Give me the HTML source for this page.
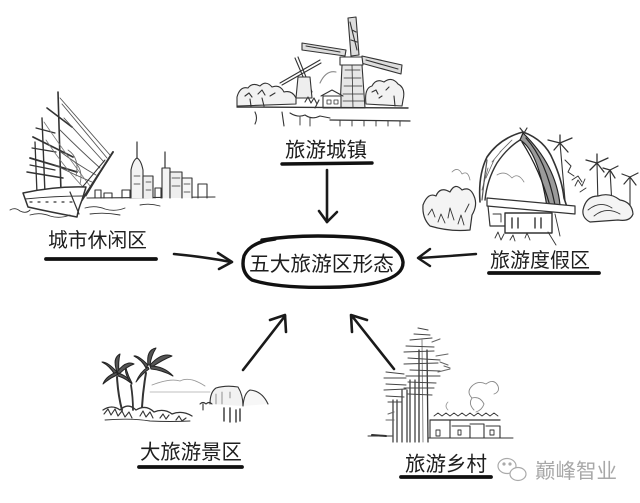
<!DOCTYPE html>
<html><head><meta charset="utf-8"><style>
html,body{margin:0;padding:0;background:#fff;}
body{width:640px;height:503px;overflow:hidden;}
svg{display:block;}
text{font-family:"Liberation Sans","Noto Sans CJK SC",sans-serif;fill:#1e1e1e;}
</style></head><body>
<svg width="640" height="503" viewBox="0 0 640 503" xmlns="http://www.w3.org/2000/svg">
<rect width="640" height="503" fill="#fff"/>

<!-- ===== Windmill (travel town) ===== -->
<g fill="none" stroke="#333" stroke-width="1.1" stroke-linecap="round" stroke-linejoin="round">
  <path d="M348,18 L356,17 L359,55 L351,56 Z" fill="#ddd"/>
  <path d="M350,22 L357,50 M352,30 L356,32 M351,40 L357,42" />
  <path d="M302,43 L346,50 L345,56 L302,50 Z" fill="#ddd"/>
  <path d="M306,46 L340,52" />
  <path d="M362,56 L402,65 L401,74 L361,63 Z" fill="#ddd"/>
  <path d="M366,60 L398,69" />
  <path d="M340,57 L362,57 L363,65 L340,65 Z" fill="#fff"/>
  <path d="M342,65 L362,65 L365,108 L340,108 Z" fill="#e6e6e6"/>
  <path d="M345,70 L360,70 M344,78 L361,78 M344,86 L362,86 M343,94 L363,94 M343,101 L364,101 M352,65 L353,108" stroke-width="0.8"/>
  <path d="M280,83 L320,60 M282,85 L321,63" />
  <path d="M295,58 L310,93 M298,57 L312,92" />
  <path d="M298,77 L310,77 L312,98 L296,98 Z" fill="#eee"/>
  <path d="M237,97 Q240,86 248,88 Q252,82 260,86 Q266,80 272,87 Q280,84 284,92 Q292,90 296,98 L296,104 L237,106 Z" fill="#f2f2f2"/>
  <path d="M245,96 l4,-3 l3,4 M258,94 l4,-4 l3,5 M270,96 l5,-3 M262,98 L264,106 M250,99 L251,106"/>
  <path d="M323,96 L341,96 L341,108 L323,108 Z M321,96 L332,90 L343,96" fill="#fff"/>
  <path d="M327,100 h4 v4 h-4z M334,100 h4 v4 h-4z" stroke-width="0.8"/>
  <path d="M366,104 Q364,88 372,86 Q376,78 384,82 Q392,76 398,84 Q406,88 403,100 L402,106 Z" fill="#f2f2f2"/>
  <path d="M372,92 l4,-2 l2,4 M386,90 l3,-3 M394,96 L395,106 M379,98 l3,-2"/>
  <path d="M320,83 Q326,70 336,72" stroke="#888"/>
  <path d="M237,107 L408,108" stroke-width="1.4"/>
  <path d="M330,120 L410,121" stroke-width="1.2"/>
  <path d="M290,113 Q298,118 305,115 Q312,120 320,116 L330,118" />
  <path d="M255,112 Q258,118 255,124 M282,112 L284,126"/>
  <path d="M300,117 v8 M310,118 v8 M340,120 v6 M352,121 v5 M364,121 v5 M376,121 v5 M388,121 v5 M400,121 v5" stroke-width="0.9"/>
  <path d="M305,102 l3,-5 l3,6 l3,-5 l3,6 M315,108 l4,-8" />
</g>

<!-- ===== Ship + city ===== -->
<g fill="none" stroke="#333" stroke-width="1.1" stroke-linecap="round" stroke-linejoin="round">
  <path d="M58,92 L61,192" stroke-width="1.6"/>
  <path d="M42,118 L45,194" stroke-width="1.4"/>
  <path d="M35,142 L37,194" stroke-width="1.3"/>
  <path d="M47,108 L72,127" stroke-width="1.6"/>
  <path d="M33,137 L73,157" stroke-width="1.8"/>
  <path d="M30,158 L77,172" stroke-width="1.8"/>
  <path d="M27,172 L63,178" stroke-width="1.5"/>
  <path d="M36,128 L55,133 M32,148 L56,152 M30,165 L55,170" stroke-width="1.2"/>
  <path d="M60,98 L110,155 M62,104 L107,158 M64,118 Q84,140 104,162 M60,130 Q80,150 100,168 M58,150 Q78,165 96,175 M55,165 Q75,175 92,182" stroke="#555" stroke-width="0.9"/>
  <path d="M44,122 Q70,160 90,186 M46,140 Q66,170 86,190" stroke="#777" stroke-width="0.8"/>
  <path d="M68,150 Q80,158 76,176 M72,160 Q84,168 80,184" stroke="#666" stroke-width="0.8"/>
  <path d="M82,200 L113,152" stroke-width="2"/>
  <path d="M86,196 L109,158 M80,190 L105,160" stroke-width="1"/>
  <path d="M23,193 Q55,186 86,187 L82,200 Q78,210 77,217 Q50,212 28,207 Z" fill="#fff" stroke-width="1.5"/>
  <path d="M25,199 Q55,196 83,196" stroke-width="0.9"/>
  <path d="M30,202 h2 M38,202 h2 M46,202 h2 M54,202 h2 M62,202 h2 M70,202 h2" stroke-width="1.2"/>
  <path d="M70,192 L79,214" stroke-width="1.2"/>
  <path d="M10,210 Q15,207 20,211 Q26,214 30,210 M30,215 Q40,212 50,216 Q60,219 70,215 M85,208 Q95,205 105,209 Q115,212 125,208 M90,214 Q105,212 120,215 M140,205 Q150,203 160,206" stroke-width="0.9"/>
  <path d="M87,198 L215,197" stroke-width="1.1"/>
  <path d="M95,198 v-8 h6 v8 M104,198 v-5 h8 v5" />
  <path d="M137,142 L137,158" stroke-width="1.2"/>
  <path d="M131,198 L131,170 Q133,160 137,158 Q141,160 143,170 L143,198" fill="#f3f3f3"/>
  <path d="M143,198 V176 h10 V198" fill="#eee"/>
  <path d="M134,176 h6 M134,184 h6 M146,182 h5 M146,190 h5" stroke-width="0.8"/>
  <path d="M165,152 L165,168" stroke-width="1.2"/>
  <path d="M162,198 V168 h8 V198" fill="#f3f3f3"/>
  <path d="M170,198 V172 h12 V198" fill="#eee"/>
  <path d="M182,198 V178 h10 V198" fill="#f6f6f6"/>
  <path d="M172,178 h8 M172,186 h8 M184,184 h6 M184,192 h6" stroke-width="0.8"/>
  <path d="M198,198 V184 h9 V198" />
  <path d="M155,198 V188 h6 V198 M122,198 V190 h8 V198" />
</g>

<!-- ===== Resort ===== -->
<g fill="none" stroke="#333" stroke-width="1.2" stroke-linecap="round" stroke-linejoin="round">
  <path d="M423,205 Q428,192 436,196 Q440,186 450,192 Q455,182 462,190 Q470,186 474,196 Q478,205 472,215 L470,230 Q450,232 430,226 Q422,218 423,205 Z" fill="#f4f4f4"/>
  <path d="M428,215 l4,-6 l3,8 M438,222 l3,-8 l4,9 M448,218 l2,-10 l4,12 M458,224 l3,-9 l3,10 M465,212 l4,-8" stroke-width="0.9"/>
  <path d="M452,172 Q458,166 462,174 Q468,170 470,180" stroke="#888" stroke-width="0.8"/>
  <path d="M480,202 Q478,175 487,157 Q500,138 523,132 Q545,140 553,160 Q562,180 564,198 L567,207" stroke-width="1.6"/>
  <path d="M520,128 L524,133 L527,128" />
  <path d="M485,200 Q487,180 497,163 Q507,148 520,140" stroke-width="1.4"/>
  <path d="M482,190 L488,168 M486,178 L494,160 M492,162 L502,150 M500,152 L512,140" stroke="#666" stroke-width="0.8"/>
  <path d="M520,140 Q538,150 547,207 L560,205 Q556,165 523,133 Z" fill="#9a9a9a" stroke="#222"/>
  <path d="M522,142 Q540,170 550,206 M526,138 Q546,160 555,205" stroke="#222" stroke-width="1.2"/>
  <path d="M487,160 Q484,180 482,200" stroke="#555"/>
  <path d="M497,175 Q505,170 512,178 Q518,172 524,182" stroke="#888" stroke-width="0.8"/>
  <path d="M487,198 L575,206 L575,214 L487,206 Z" fill="#fff"/>
  <path d="M505,213 L552,213 L552,233 L505,233 Z" fill="#fff" stroke-width="1.4"/>
  <path d="M488,206 L490,226 L505,226" />
  <path d="M512,218 v10 M518,218 v10 M535,218 v10 M541,218 v10" stroke-width="1.4"/>
  <path d="M493,214 h8 v8 M555,214 L560,236 M548,232 L556,245" stroke-width="0.9"/>
  <path d="M495,238 l3,-6 l3,8 l3,-6 M510,240 l3,-5 l2,6 M525,238 l2,-5 l3,7" stroke-width="0.9"/>
  <path d="M560,143 L565,200 M597,163 L598,205 M610,170 L612,205 M630,177 L630,205" stroke-width="1.1"/>
  <path d="M548,140 L560,143 L572,138 M554,150 L560,143 L568,152 M560,135 L560,143" stroke-width="1.3"/>
  <path d="M586,160 L597,163 L608,158 M590,170 L597,163 L604,172 M597,154 L597,163" stroke-width="1.3"/>
  <path d="M603,168 L610,170 L618,166 M605,177 L610,170 L615,178" stroke-width="1.2"/>
  <path d="M622,174 L630,177 L638,173 M624,184 L630,177 L636,185" stroke-width="1.2"/>
  <path d="M565,160 l6,6 l-3,6 l6,4 M572,180 l6,-4 l4,6" stroke-width="1"/>
  <path d="M583,210 Q586,196 598,196 Q610,192 620,200 Q632,202 633,214 Q630,222 618,220 L590,222 Q582,218 583,210 Z" fill="#f4f4f4"/>
  <path d="M588,210 Q600,200 612,208 M594,216 Q606,206 620,214" stroke-width="0.9"/>
  <path d="M575,186 l3,-6 l4,6 l3,-7 M580,192 l6,-4" stroke-width="0.9"/>
</g>

<!-- ===== Beach / scenic area ===== -->
<g fill="none" stroke="#333" stroke-width="1.1" stroke-linecap="round" stroke-linejoin="round">
  <path d="M152,385 Q170,378 180,381 Q190,376 205,386" stroke="#999" stroke-width="0.9"/>
  <path d="M150,392 L210,392" stroke="#aaa" stroke-width="0.8"/>
  <path d="M117,377 Q118,395 122,410" stroke-width="2"/>
  <path d="M131,385 Q133,398 133,410" stroke-width="1.8"/>
  <path d="M146,373 Q143,390 142,407" stroke-width="2"/>
  <g fill="#555" stroke="#222" stroke-width="1">
    <path d="M117,372 Q108,362 102,362 Q110,366 115,375 Z"/>
    <path d="M117,372 Q112,358 120,354 Q118,362 119,372 Z"/>
    <path d="M117,372 Q126,360 134,364 Q126,367 119,374 Z"/>
    <path d="M117,372 Q106,376 103,384 Q110,378 117,375 Z"/>
    <path d="M118,373 Q128,376 132,384 Q125,378 118,376 Z"/>
    <path d="M130,382 Q124,372 126,368 Q128,376 132,383 Z"/>
  </g>
  <g fill="#555" stroke="#222" stroke-width="1">
    <path d="M148,365 Q138,355 134,356 Q142,360 146,368 Z"/>
    <path d="M148,365 Q146,350 156,348 Q151,356 150,365 Z"/>
    <path d="M150,365 Q162,352 172,356 Q162,360 152,367 Z"/>
    <path d="M150,366 Q164,366 173,376 Q162,370 151,369 Z"/>
    <path d="M148,367 Q140,372 136,382 Q142,374 149,369 Z"/>
  </g>
  <path d="M103,410 Q112,404 120,410 Q128,402 136,410 Q146,404 154,412 Q164,408 172,414 Q182,410 192,416" stroke-width="1.3"/>
  <path d="M104,414 l4,-5 l3,6 l4,-6 l3,7 l4,-5 l3,6 l4,-5 l3,6 M140,416 l3,-5 l3,6 l4,-5 l3,6 M160,418 l3,-4 l3,5 l3,-4 M176,420 l3,-4 l3,5 l4,-3" stroke-width="1.1"/>
  <path d="M105,420 Q130,418 150,421 Q170,422 190,421" stroke-width="0.9"/>
  <path d="M210,404 Q210,392 216,388 Q226,385 238,387 Q243,395 243,406" fill="#f2f2f2"/>
  <path d="M243,406 Q244,393 250,390 Q262,391 268,404" fill="#f7f7f7"/>
  <path d="M216,394 v10 M222,392 v12 M230,392 v6" stroke="#777" stroke-width="0.8"/>
  <path d="M224,408 v13 M230,408 v14 M236,410 v12 M240,409 v12" stroke-width="1.4"/>
  <path d="M200,404 q3,-3 6,0 q3,-3 6,0 M203,404 v6" />
</g>

<!-- ===== Village ===== -->
<g fill="none" stroke="#333" stroke-width="1" stroke-linecap="round" stroke-linejoin="round">
  <path d="M393,400 L393,442 M397,400 L397,442" stroke-width="1.2"/>
  <path d="M402,390 L402,442 M407,390 L407,442" stroke-width="1.2"/>
  <path d="M410,380 L410,442 M415,380 L415,442" stroke-width="1.2"/>
  <path d="M419,350 L419,442 M427,350 L428,442" stroke-width="1.3"/>
  <path d="M422,340 L423,442" stroke="#888"/>
  <g stroke="#444" stroke-width="1.1">
    <path d="M418,328 l10,2 M414,334 l16,1 M410,340 l22,-2 M406,346 l28,1 M404,352 l30,-1 M408,358 l32,2 M404,364 l34,-1 M410,370 l30,1 M406,376 l34,0 M408,382 l28,1 M404,388 l30,0 M408,394 l24,1"/>
    <path d="M432,342 l8,-3 M436,356 l12,-2 M440,362 l8,3 M438,372 l12,-3 M444,366 l6,2" stroke="#666"/>
    <path d="M386,372 l18,2 M384,378 l22,0 M386,384 l20,1 M384,390 l22,-1 M386,396 l18,1 M388,402 l14,0"/>
    <path d="M388,414 l6,-2 M386,420 l8,0" stroke="#666"/>
  </g>
  <path d="M430,420 L500,420" stroke-width="1.2"/>
  <path d="M430,420 L430,438 M450,420 V438 M452,426 L470,426 L470,438 M470,424 L484,424 L484,438 M486,426 L500,426 L500,438" stroke-width="1.1"/>
  <path d="M434,416 l4,-3 l4,3 l4,-3 l4,3 l4,-3 l4,3 l4,-3 l4,3 l4,-3 l4,3 l4,-3 l4,3 l4,-3 l4,3 l4,-3 l4,3" stroke-width="0.9"/>
  <path d="M436,430 h4 v6 h-4z M458,430 h3 v5 h-3z M490,430 h4 v5 h-4z" stroke-width="0.9"/>
  <path d="M474,410 Q468,404 472,398 Q466,392 472,386 Q478,380 486,384 Q494,378 498,386 Q500,392 494,394" stroke="#888" stroke-width="0.9"/>
  <path d="M472,398 Q480,396 484,404 Q482,410 476,412" stroke="#888" stroke-width="0.9"/>
  <path d="M448,410 Q444,406 448,402" stroke="#999" stroke-width="0.8"/>
  <path d="M368,436 L392,436 M428,438 L513,438" stroke-width="1"/>
  <path d="M372,435 L386,436" stroke-width="2"/>
</g>

<!-- ===== Arrows ===== -->
<g fill="none" stroke="#1a1a1a" stroke-linecap="round" stroke-linejoin="round">
  <path d="M327,170 L327,222" stroke-width="2.6"/>
  <path d="M319,211 L327,222 L337,212" stroke-width="2.6"/>
  <path d="M174,254 Q205,257 231,262" stroke-width="2.6"/>
  <path d="M218,253 L232,262 L219,269" stroke-width="2.6"/>
  <path d="M476,254 Q450,256 419,258" stroke-width="2.4"/>
  <path d="M430,249 L418,258 L430,266" stroke-width="2.4"/>
  <path d="M243,370 L285,316" stroke-width="2.6"/>
  <path d="M270,320 L285,315 L286,332" stroke-width="2.6"/>
  <path d="M394,369 L352,316" stroke-width="2.6"/>
  <path d="M352,332 L351,315 L367,320" stroke-width="2.6"/>
</g>

<!-- ===== Central ellipse ===== -->
<path d="M262,240 Q300,234 350,237 Q400,240 403,262 Q404,284 340,287 Q280,289 252,280 Q240,272 244,256 Q250,242 275,239" fill="none" stroke="#111" stroke-width="3.4" stroke-linecap="round"/>

<!-- ===== Underlines ===== -->
<g stroke="#111" stroke-linecap="round" fill="none">
  <path d="M282,164 L372,163" stroke-width="3.4"/>
  <path d="M46,259 L156,259" stroke-width="3.8"/>
  <path d="M489,273 L599,273" stroke-width="3.8"/>
  <path d="M139,467 L242,467" stroke-width="3.8"/>
  <path d="M401,477 L491,477" stroke-width="3.8"/>
</g>

<!-- ===== Labels ===== -->
<text x="285" y="157" font-size="20.5">旅游城镇</text>
<text x="48" y="247" font-size="19.8">城市休闲区</text>
<text x="249" y="271" font-size="20.7">五大旅游区形态</text>
<text x="490" y="267" font-size="20">旅游度假区</text>
<text x="140" y="459" font-size="20.4">大旅游景区</text>
<text x="405" y="471" font-size="20.5">旅游乡村</text>

<!-- ===== Watermark ===== -->
<g fill="none" stroke="#aaa" stroke-width="1.2">
  <ellipse cx="507" cy="466" rx="9" ry="7.5"/>
  <ellipse cx="518" cy="474" rx="8" ry="6.5" fill="#fff"/>
  <circle cx="504" cy="464" r="1" fill="#aaa"/>
  <circle cx="510" cy="464" r="1" fill="#aaa"/>
</g>
<text x="535" y="478" font-size="20.5" style="fill:#a8a8a8">巅峰智业</text>
</svg>
</body></html>
